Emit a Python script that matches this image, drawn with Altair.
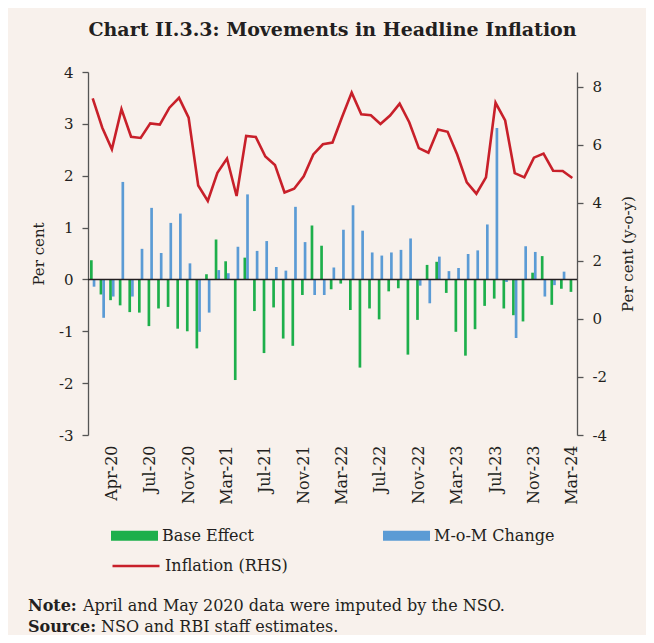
import altair as alt
import pandas as pd

# ---------------- data ----------------
months = [d.strftime("%b-%y") for d in pd.date_range("2020-01-01", "2024-03-01", freq="MS")]

base_effect = [0.37, -0.29, -0.40, -0.50, -0.63, -0.64, -0.90, -0.56, -0.53, -0.95,
               -1.00, -1.33, 0.10, 0.77, 0.35, -1.94, 0.42, -0.61, -1.42, -0.54,
               -1.14, -1.28, -0.30, 1.04, 0.65, -0.19, -0.08, -0.59, -1.70, -0.56,
               -0.77, -0.23, -0.17, -1.45, -0.78, 0.28, 0.34, -0.26, -1.01, -1.47,
               -0.96, -0.51, -0.37, -0.56, -0.69, -0.81, 0.13, 0.45, -0.49, -0.18,
               -0.24]

mom_change = [-0.14, -0.74, -0.33, 1.88, -0.33, 0.59, 1.38, 0.51, 1.09, 1.27,
              0.31, -1.01, -0.64, 0.18, 0.12, 0.63, 1.64, 0.55, 0.74, 0.24,
              0.17, 1.40, 0.72, -0.30, -0.30, 0.23, 0.96, 1.43, 0.94, 0.52,
              0.46, 0.52, 0.57, 0.79, -0.12, -0.46, 0.44, 0.16, 0.22, 0.49,
              0.56, 1.06, 2.92, -0.05, -1.13, 0.64, 0.53, -0.33, -0.11, 0.15,
              0.00]

inflation = [7.59, 6.58, 5.84, 7.22, 6.27, 6.23, 6.73, 6.69, 7.27, 7.61,
             6.93, 4.59, 4.06, 5.03, 5.52, 4.23, 6.30, 6.26, 5.59, 5.30,
             4.35, 4.48, 4.91, 5.66, 6.01, 6.07, 6.95, 7.79, 7.04, 7.01,
             6.71, 7.00, 7.41, 6.77, 5.88, 5.72, 6.52, 6.44, 5.66, 4.70,
             4.31, 4.87, 7.44, 6.83, 5.02, 4.87, 5.55, 5.69, 5.10, 5.09,
             4.85]

tick_months = months[2::4]
tick_labels = ["Apr-20", "Jul-20", "Nov-20", "Mar-21", "Jul-21", "Nov-21", "Mar-22",
               "Jul-22", "Nov-22", "Mar-23", "Jul-23", "Nov-23", "Mar-24"]

left_ticks = [-3, -2, -1, 0, 1, 2, 3, 4]
right_ticks = [-4, -2, 0, 2, 4, 6, 8]

bar_series = ["Base Effect", "M-o-M Change"]
line_series = ["Inflation (RHS)"]

title_text = "Chart II.3.3: Movements in Headline Inflation"
note_head, note_body = "Note:", "April and May 2020 data were imputed by the NSO."
source_head, source_body = "Source:", "NSO and RBI staff estimates."

# ---------------- styling ----------------
FONT = "DejaVu Serif"
TXT = "#231F20"
AX = "#555555"
GREEN = "#1DAF4B"
BLUE = "#5B9BD5"
RED = "#C8202A"
BG = "#F8F1EC"

W, H = 489, 363

bars_df = pd.DataFrame({
    "month": months * 2,
    "series": [bar_series[0]] * len(months) + [bar_series[1]] * len(months),
    "value": base_effect + mom_change,
})
line_df = pd.DataFrame({"month": months, "series": line_series[0], "value": inflation})
zero_df = pd.DataFrame({"z": [0]})

label_expr = "[" + ",".join(f"'{l}'" for l in tick_labels) + "][indexof([" + \
    ",".join(f"'{m}'" for m in tick_months) + "], datum.value)]"
num_expr = "'' + datum.value"

x_enc = alt.X(
    "month:O", sort=months,
    scale=alt.Scale(paddingInner=0.44, paddingOuter=0.21),
    axis=alt.Axis(values=tick_months, labelExpr=label_expr, labelAngle=270,
                  labelAlign="right", labelBaseline="middle", labelPadding=10,
                  ticks=False, domain=False, title=None, labelFont=FONT,
                  labelFontSize=16, labelColor=TXT),
)

bars = alt.Chart(bars_df).mark_bar().encode(
    x=x_enc,
    xOffset=alt.XOffset("series:N", sort=bar_series,
                        scale=alt.Scale(paddingInner=0, paddingOuter=0)),
    y=alt.Y("value:Q",
            scale=alt.Scale(domain=[-3, 4], nice=False, zero=False),
            axis=alt.Axis(values=left_ticks, labelExpr=num_expr, title="Per cent",
                          orient="left", grid=False, tickSize=6, tickColor=AX,
                          domainColor=AX, domainWidth=1.3, tickWidth=1.3, labelPadding=9,
                          labelFont=FONT, labelFontSize=15, labelColor=TXT,
                          titleFont=FONT, titleFontSize=15, titleFontWeight="normal",
                          titleColor=TXT, titleAngle=270, titleX=-50, titleY=H / 2,
                          titleAlign="center", titleBaseline="middle")),
    color=alt.Color("series:N",
                    scale=alt.Scale(domain=bar_series, range=[GREEN, BLUE]),
                    legend=alt.Legend(title=None, orient="none", legendX=23, legendY=440,
                                      direction="horizontal", columns=2, columnPadding=129,
                                      symbolType="M-1,-0.21L1,-0.21L1,0.21L-1,0.21Z",
                                      symbolSize=2209, symbolStrokeWidth=0,
                                      labelFont=FONT, labelFontSize=16, labelColor=TXT,
                                      labelOffset=4)),
)

zero_rule = alt.Chart(zero_df).mark_rule(color=TXT, strokeWidth=1.6).encode(y=alt.datum(0))

left_layer = alt.layer(bars, zero_rule)

line = alt.Chart(line_df).mark_line(strokeWidth=2.6).encode(
    x=alt.X("month:O", sort=months),
    y=alt.Y("value:Q",
            scale=alt.Scale(domain=[-4, 8.5], nice=False, zero=False),
            axis=alt.Axis(values=right_ticks, labelExpr=num_expr, title="Per cent (y-o-y)",
                          orient="right", grid=False, tickSize=6, tickColor=AX,
                          domainColor=AX, domainWidth=1.3, tickWidth=1.3, labelPadding=9,
                          labelFont=FONT, labelFontSize=15, labelColor=TXT,
                          titleFont=FONT, titleFontSize=15, titleFontWeight="normal",
                          titleColor=TXT, titleAngle=270, titleX=50, titleY=H / 2,
                          titleAlign="center", titleBaseline="middle")),
    color=alt.Color("series:N",
                    scale=alt.Scale(domain=line_series, range=[RED]),
                    legend=alt.Legend(title=None, orient="none", legendX=23, legendY=469,
                                      symbolType="stroke", symbolSize=2209,
                                      symbolStrokeWidth=2.6,
                                      labelFont=FONT, labelFontSize=16, labelColor=TXT,
                                      labelOffset=4)),
)


def text_layer(txt, xpos, ypos, bold):
    return alt.Chart(pd.DataFrame({"t": [txt]})).mark_text(
        align="left", baseline="alphabetic", font=FONT, fontSize=16,
        fontWeight="bold" if bold else "normal", color=TXT,
    ).encode(text="t:N", x=alt.value(xpos), y=alt.value(ypos))


notes = [
    text_layer(note_head, -60, 539, True),
    text_layer(note_body, -5, 539, False),
    text_layer(source_head, -60, 560, True),
    text_layer(source_body, 13, 560, False),
]

chart = alt.layer(left_layer, line, *notes).resolve_scale(
    y="independent", color="independent"
).properties(
    width=W, height=H,
    autosize=alt.AutoSizeParams(type="none"),
    padding={"left": 80, "top": 64, "right": 69, "bottom": 200},
    background=BG,
    title=alt.Title(title_text, font=FONT, fontSize=19, fontWeight="bold",
                    color=TXT, anchor="middle", offset=25),
).configure_view(stroke=None)

chart.save("out.html", embed_options={"renderer": "svg", "actions": False})
